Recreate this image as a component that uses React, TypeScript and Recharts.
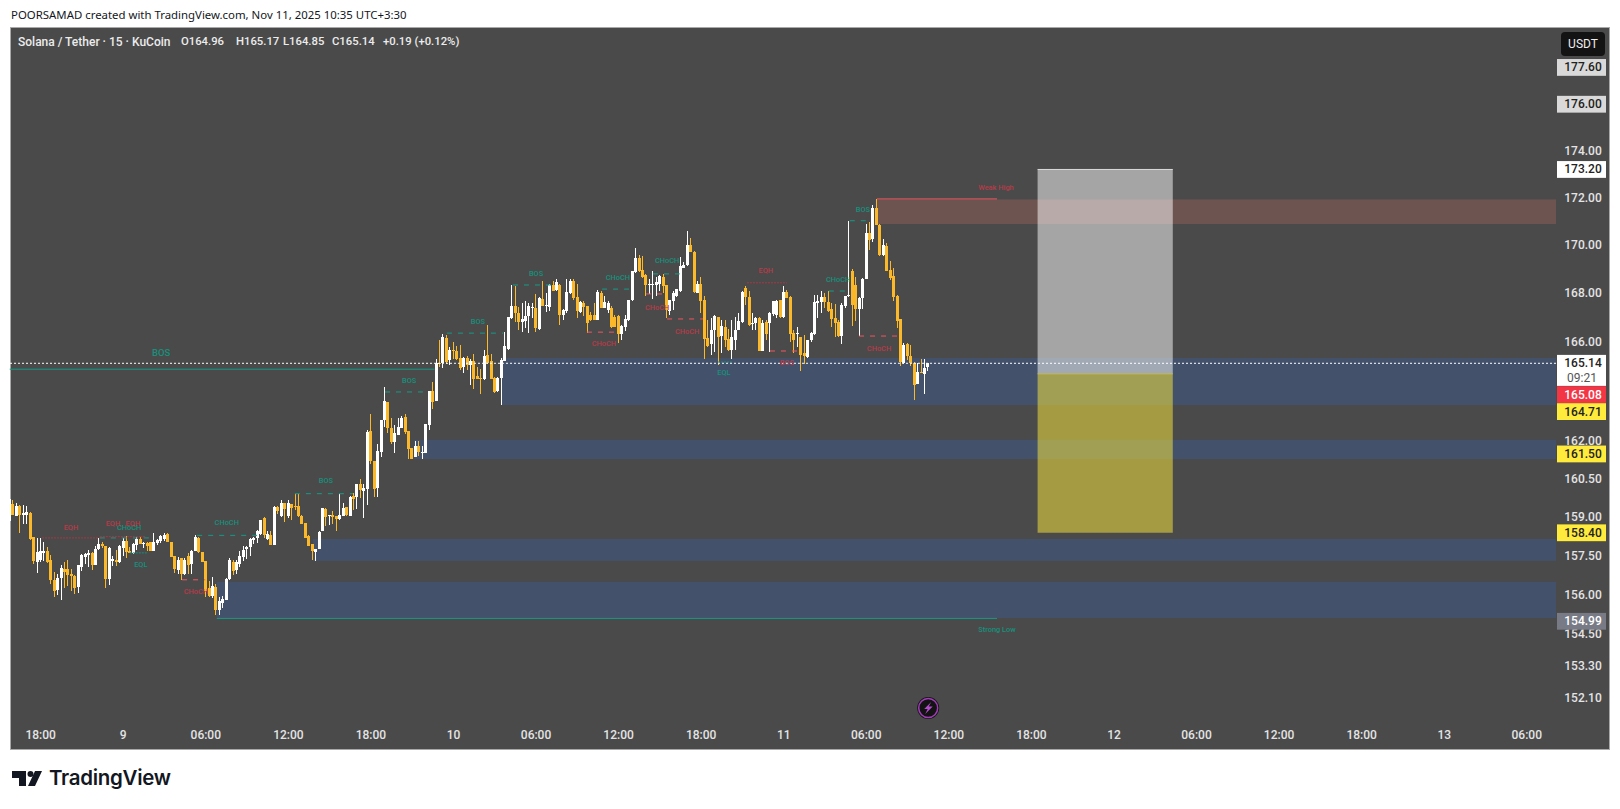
import React from "react";
import { Bar, ComposedChart, ReferenceArea, ReferenceDot, ReferenceLine, XAxis, YAxis } from "recharts";

const opens = [
  158.84, 159.52, 159.06, 159.46, 159.13, 159.13, 159.19, 158.22, 157.27, 157.33,
  157.62, 157.69, 157.33, 156.59, 156.19, 156.64, 157.0, 156.98, 156.81, 156.74,
  156.31, 157.07, 157.44, 157.56, 157.62, 157.14, 157.75, 157.96, 157.88, 156.6,
  157.33, 157.36, 157.25, 157.83, 158.09, 157.69, 157.62, 157.92, 158.16, 157.96,
  158.01, 158.03, 157.7, 158.01, 158.08, 158.18, 158.36, 158.03, 157.49, 156.97,
  157.44, 156.78, 157.49, 157.18, 157.7, 158.18, 157.66, 157.29, 156.26, 155.98,
  156.31, 155.43, 155.66, 155.8, 156.59, 157.27, 156.97, 157.2, 157.46, 157.75,
  157.86, 158.09, 158.18, 158.35, 158.97, 158.16, 158.32, 157.92, 159.39, 159.06,
  159.56, 159.06, 159.53, 159.46, 159.46, 159.07, 158.8, 158.29, 157.97, 157.65,
  157.76, 158.44, 159.33, 159.04, 159.09, 159.04, 158.93, 159.07, 159.4, 159.07,
  159.85, 159.78, 160.3, 160.03, 160.12, 162.4, 161.24, 160.15, 161.6, 162.83,
  163.58, 162.53, 161.96, 162.26, 162.53, 162.96, 162.42, 161.73, 161.4, 161.82,
  161.54, 161.55, 162.68, 164.03, 163.6, 165.14, 165.13, 166.16, 165.28, 165.68,
  165.64, 165.35, 164.97, 165.35, 165.07, 165.24, 164.63, 164.53, 164.5, 165.48,
  165.24, 164.53, 164.03, 164.53, 165.24, 165.75, 167.0, 167.49, 167.2, 166.85,
  166.86, 167.08, 167.44, 167.41, 166.57, 167.78, 167.49, 167.46, 168.35, 168.12,
  168.35, 167.1, 167.26, 168.04, 168.52, 167.85, 167.23, 167.6, 167.48, 167.11,
  167.11, 166.91, 168.03, 167.43, 167.32, 167.41, 167.05, 167.07, 166.34, 166.64,
  166.91, 167.7, 168.91, 169.49, 168.98, 168.77, 168.37, 168.35, 168.38, 168.38,
  168.7, 168.33, 167.29, 167.69, 167.89, 168.08, 169.08, 169.19, 170.02, 169.71,
  168.03, 168.39, 167.73, 166.18, 165.93, 166.5, 167.02, 166.25, 166.63, 166.13,
  165.65, 166.09, 166.5, 166.84, 168.22, 167.84, 166.73, 166.78, 167.0, 165.64,
  166.84, 166.81, 167.18, 167.12, 167.73, 167.07, 168.08, 167.87, 166.39, 166.33,
  166.2, 165.55, 165.41, 166.06, 166.33, 167.63, 167.66, 167.87, 167.66, 167.35,
  166.97, 166.84, 166.23, 167.48, 167.89, 168.92, 168.33, 167.35, 167.8, 168.6,
  170.51, 170.27, 171.56, 170.86, 169.6, 169.98, 168.98, 168.73, 167.9, 166.95,
  165.14, 165.93, 165.44, 165.14, 164.3, 164.79, 164.71, 164.96,
];

const closes = [
  159.72, 159.1, 159.46, 159.1, 159.19, 159.23, 158.18, 157.27, 157.66, 157.69,
  157.69, 157.27, 156.55, 156.15, 156.64, 157.03, 156.9, 156.73, 156.72, 156.29,
  157.14, 157.53, 157.57, 157.62, 157.14, 157.77, 157.96, 157.88, 156.6, 157.79,
  157.4, 157.27, 157.88, 158.09, 157.65, 157.62, 157.96, 158.16, 157.96, 158.01,
  157.88, 157.67, 158.05, 158.12, 158.29, 158.32, 158.03, 157.46, 156.97, 157.36,
  156.81, 157.33, 157.16, 157.7, 158.25, 157.62, 157.27, 156.15, 155.96, 156.35,
  155.43, 155.76, 155.83, 156.61, 157.33, 156.94, 157.27, 157.5, 157.75, 157.83,
  158.16, 158.18, 158.45, 158.88, 158.32, 158.36, 157.92, 159.4, 159.23, 159.56,
  159.32, 159.56, 159.39, 159.43, 159.07, 158.75, 158.23, 157.9, 157.71, 157.76,
  158.44, 159.35, 159.01, 159.08, 159.01, 158.91, 159.09, 159.38, 159.07, 159.8,
  159.75, 160.3, 160.05, 160.15, 162.38, 161.2, 160.15, 161.62, 162.86, 163.6,
  162.53, 161.97, 162.33, 162.58, 162.93, 162.37, 161.7, 161.3, 161.83, 161.6,
  161.57, 162.7, 164.03, 163.6, 165.14, 165.1, 166.2, 165.2, 165.68, 165.65,
  165.32, 164.95, 165.35, 165.07, 165.24, 164.53, 164.5, 164.5, 165.44, 165.14,
  164.5, 163.96, 164.56, 165.27, 165.85, 167.05, 167.49, 167.19, 166.85, 166.96,
  167.08, 167.49, 167.46, 166.57, 167.83, 167.49, 167.52, 168.35, 168.12, 168.46,
  167.1, 167.3, 168.05, 168.52, 167.83, 167.29, 167.63, 167.44, 166.8, 166.91,
  166.91, 168.06, 167.43, 167.66, 167.62, 166.64, 166.64, 166.34, 166.66, 166.95,
  167.73, 168.91, 169.49, 168.94, 168.7, 168.35, 168.39, 168.38, 168.49, 168.72,
  168.33, 167.29, 167.73, 168.03, 168.17, 169.12, 169.19, 170.02, 169.71, 168.03,
  168.39, 167.7, 166.12, 165.85, 166.5, 167.07, 166.2, 166.66, 166.09, 165.68,
  166.2, 166.5, 166.87, 168.08, 167.84, 166.68, 166.78, 167.0, 165.64, 166.8,
  166.36, 167.21, 167.7, 167.7, 167.02, 168.08, 167.82, 166.33, 166.09, 166.36,
  165.48, 165.41, 166.09, 166.36, 167.66, 167.7, 167.87, 167.66, 167.28, 166.94,
  166.78, 166.26, 167.52, 167.89, 167.93, 167.5, 167.32, 167.8, 168.6, 170.51,
  170.23, 171.56, 170.86, 169.6, 170.02, 168.95, 168.63, 167.87, 166.87, 165.18,
  165.87, 165.44, 165.14, 164.26, 164.78, 164.76, 164.95, 165.14,
];

const highs = [
  159.8, 159.69, 159.56, 159.5, 159.5, 159.46, 159.23, 158.25, 158.2, 158.2,
  158.05, 157.83, 157.53, 156.87, 156.81, 157.16, 157.27, 157.36, 157.0, 156.78,
  157.16, 157.57, 157.62, 157.73, 157.66, 157.88, 158.18, 158.05, 157.88, 157.83,
  157.49, 157.75, 157.92, 158.18, 158.28, 157.83, 158.01, 158.25, 158.25, 158.05,
  158.05, 158.03, 158.38, 158.15, 158.3, 158.4, 158.39, 158.03, 157.49, 157.46,
  157.44, 157.44, 157.6, 157.73, 158.3, 158.22, 157.66, 157.29, 156.55, 156.7,
  156.4, 155.9, 155.96, 156.64, 157.44, 157.33, 157.33, 157.7, 157.88, 157.9,
  158.2, 158.25, 158.5, 158.9, 159.0, 158.45, 158.45, 159.45, 159.45, 159.7,
  159.56, 159.7, 159.53, 159.93, 159.93, 159.1, 158.8, 158.3, 157.97, 157.77,
  158.45, 159.35, 159.35, 159.1, 159.25, 159.05, 159.9, 159.55, 159.4, 159.85,
  159.95, 160.3, 160.5, 160.3, 162.45, 163.1, 161.24, 161.9, 162.86, 164.2,
  163.58, 162.95, 162.65, 162.93, 163.0, 163.1, 162.42, 161.73, 162.0, 162.0,
  161.8, 162.7, 164.03, 164.4, 165.3, 166.1, 166.35, 166.3, 165.82, 166.0,
  165.85, 165.9, 165.4, 165.45, 165.3, 165.5, 165.0, 164.9, 165.7, 166.7,
  165.5, 164.6, 164.6, 165.35, 166.4, 167.05, 168.35, 168.3, 167.45, 167.6,
  167.7, 167.6, 167.6, 167.98, 167.85, 168.5, 168.0, 168.4, 168.5, 168.6,
  168.4, 167.35, 168.6, 168.6, 168.6, 168.4, 167.7, 167.7, 167.5, 167.25,
  167.6, 168.15, 168.1, 167.9, 167.7, 167.5, 167.1, 167.1, 166.7, 167.1,
  167.75, 168.95, 169.9, 169.6, 169.55, 168.8, 168.6, 168.95, 168.7, 168.75,
  168.8, 168.35, 167.75, 168.1, 168.2, 169.5, 169.3, 170.6, 170.3, 169.75,
  168.5, 168.7, 167.9, 166.9, 167.0, 167.1, 167.05, 166.9, 166.9, 166.55,
  166.9, 167.05, 167.2, 168.1, 168.3, 168.1, 167.2, 167.05, 167.05, 166.9,
  166.9, 167.25, 167.7, 167.75, 167.75, 168.3, 168.15, 167.9, 166.5, 166.6,
  166.2, 166.3, 166.1, 166.4, 167.95, 167.95, 168.1, 168.0, 168.1, 167.6,
  167.55, 166.9, 167.6, 167.9, 171.03, 169.0, 168.7, 167.85, 168.65, 170.9,
  170.97, 171.7, 171.93, 170.9, 170.25, 170.1, 169.35, 169.05, 167.95, 166.95,
  165.95, 165.95, 165.9, 165.2, 165.15, 165.32, 165.3, 165.17,
];

const lows = [
  158.84, 159.1, 159.04, 158.41, 158.75, 158.77, 158.12, 157.2, 156.84, 157.27,
  157.3, 157.2, 156.42, 155.89, 156.02, 155.83, 156.26, 156.35, 156.15, 156.06,
  156.1, 156.9, 157.2, 157.07, 156.98, 157.14, 157.73, 157.83, 156.26, 156.35,
  157.1, 157.14, 157.23, 157.5, 157.44, 157.6, 157.6, 157.73, 157.96, 157.8,
  157.69, 157.67, 157.67, 157.9, 158.0, 158.1, 158.03, 157.46, 156.85, 156.8,
  156.6, 156.78, 156.78, 156.8, 157.69, 157.6, 157.27, 155.9, 155.94, 155.9,
  155.2, 155.2, 155.5, 155.8, 156.59, 156.75, 156.78, 157.1, 157.3, 157.4,
  157.5, 157.98, 158.0, 158.3, 158.2, 158.1, 157.92, 157.92, 159.15, 159.05,
  158.8, 159.0, 158.9, 159.3, 159.04, 158.75, 158.2, 157.9, 157.35, 157.3,
  157.76, 158.44, 158.65, 158.7, 158.75, 158.45, 158.9, 159.05, 159.05, 159.05,
  159.3, 159.3, 159.75, 158.95, 159.5, 161.1, 159.8, 159.8, 161.4, 162.6,
  162.35, 161.9, 161.53, 162.26, 162.5, 162.3, 161.3, 161.28, 161.35, 161.4,
  161.3, 161.55, 162.45, 163.3, 163.6, 165.0, 164.95, 165.1, 165.1, 165.3,
  165.3, 164.9, 164.75, 164.9, 164.25, 164.1, 164.5, 163.9, 164.5, 165.1,
  164.5, 163.96, 164.0, 163.45, 165.24, 165.7, 166.95, 166.8, 166.5, 166.4,
  166.6, 166.35, 167.0, 166.4, 166.5, 167.45, 167.2, 167.3, 168.1, 168.1,
  166.7, 166.9, 167.2, 168.0, 167.75, 167.0, 167.2, 167.1, 166.4, 166.9,
  166.9, 166.9, 167.4, 167.43, 167.2, 166.6, 166.6, 165.95, 166.1, 166.45,
  166.9, 167.7, 168.85, 168.9, 168.65, 167.9, 168.0, 167.8, 167.9, 168.1,
  168.0, 167.0, 167.15, 167.3, 167.85, 168.05, 169.05, 169.15, 169.7, 168.0,
  168.0, 167.2, 165.3, 165.8, 165.5, 165.6, 165.1, 165.55, 165.8, 165.65,
  165.3, 165.7, 166.5, 166.8, 167.5, 166.68, 166.5, 166.5, 165.64, 165.64,
  166.1, 165.6, 167.1, 167.0, 167.0, 167.0, 167.8, 166.0, 165.55, 165.8,
  164.8, 165.1, 165.35, 166.0, 166.3, 167.0, 167.2, 167.4, 167.25, 166.6,
  166.2, 166.2, 165.9, 167.4, 167.87, 166.64, 166.9, 166.25, 167.35, 168.6,
  169.8, 170.15, 170.86, 169.55, 169.55, 168.95, 168.55, 167.7, 166.6, 165.02,
  165.1, 165.25, 165.05, 163.65, 164.3, 164.76, 163.9, 164.85,
];

// time axis, in 15 minute slots
const slotCount = 450;
const timeTicks = [9, 33, 57, 81, 105, 129, 153, 177, 201, 225, 249, 273, 297, 321, 345, 369, 393, 417, 441];
const timeLabels = ["18:00", "9", "06:00", "12:00", "18:00", "10", "06:00", "12:00", "18:00", "11", "06:00", "12:00", "18:00", "12", "06:00", "12:00", "18:00", "13", "06:00"];

const priceTicks = [174, 172, 170, 168, 166, 162, 160.5, 159, 157.5, 156, 154.5, 153.3, 152.1];
const priceTags = [177.6, 176, 173.2, 165.14, 165.08, 164.71, 161.5, 158.4, 154.99];

// [from slot, top price, bottom price]
const demandZones = [
  [143.5, 165.35, 163.46],
  [118, 162.06, 161.3],
  [88.7, 158.16, 157.31],
  [60.7, 156.5, 155.12],
];
const supplyZone = [252.5, 171.93, 170.89];
const tradeBox = { from: 299.3, to: 338.6, target: 173.2, entry: 164.71, stop: 158.4 };
const lastPrice = 165.14;

// [text, from, to, price, label slot, label price]
type Mark = [string, number, number, number, number, number];
const greenDashed: Mark[] = [
  ["CHoCH", 26.7, 41.3, 158.2, 35.2, 158.63],
  ["CHoCH", 55, 72.4, 158.3, 63.6, 158.8],
  ["BOS", 83.4, 100.3, 159.93, 92.4, 160.45],
  ["BOS", 109.6, 120.6, 163.98, 116.6, 164.43],
  ["BOS", 127.6, 143.9, 166.37, 136.6, 166.87],
  ["BOS", 146.8, 158.1, 168.35, 153.5, 168.85],
  ["CHoCH", 172.7, 180.8, 168.18, 177.3, 168.68],
  ["CHoCH", 187.5, 195.3, 168.81, 191.6, 169.36],
  ["CHoCH", 238.6, 244.7, 168.1, 241.3, 168.6],
  ["BOS", 244.7, 250.6, 171.03, 248.5, 171.53],
];
const redDashed: Mark[] = [
  ["CHoCH", 50.6, 57.3, 156.58, 54.6, 156.12],
  ["CHoCH", 168.3, 177.3, 166.41, 173.2, 165.96],
  ["CHoCH", 185.5, 190.1, 167.98, 188.7, 167.44],
  ["CHoCH", 191.6, 202, 166.95, 197.4, 166.46],
  ["BOS", 221.5, 230.2, 165.64, 226.4, 165.16],
  ["CHoCH", 247.4, 259.3, 166.25, 253.2, 165.76],
];
const greenDotted: Mark[] = [
  ["EQL", 35.4, 40.7, 157.62, 38.6, 157.16],
  ["EQL", 206.4, 210.4, 165.19, 208.1, 164.79],
];
const redDotted: Mark[] = [
  ["EQH", 9.9, 26.7, 158.2, 18.3, 158.63],
  ["EQH", 26.7, 38.4, 158.25, 30.5, 158.75],
  ["EQH", 38.4, 40, 158.25, 36.3, 158.75],
  ["EQH", 214.8, 226.4, 168.44, 220.3, 168.94],
];
const greenSolid: Mark[] = [
  ["BOS", 0.5, 124, 164.9, 44.5, 165.56],
  ["Strong Low", 60.7, 287.5, 155.1, 287.5, 154.7],
];
const redSolid: Mark[] = [["Weak High", 252.6, 287.5, 171.95, 287.2, 172.46]];

const boltSlot = 267.5;
const boltPrice = 151.72;

const rows = Array.from({ length: slotCount }, (_, slot) =>
  slot < opens.length
    ? {
        slot,
        wick: [lows[slot], highs[slot]],
        body: [Math.min(opens[slot], closes[slot]), Math.max(opens[slot], closes[slot])],
        up: closes[slot] >= opens[slot],
      }
    : { slot }
);

const GREEN_TEXT = "#17907c";
const RED_TEXT = "#b53c49";
const GREEN_LINE = "#149c86";
const RED_LINE = "#f25560";
const UI_FONT = "Roboto, sans-serif";

const CandlePart = ({ x, y, width, height, payload }: any) => {
  if (!Number.isFinite(y) || !Number.isFinite(height) || payload.up === undefined) return null;
  return (
    <rect
      x={Math.round(x)}
      y={Math.round(y)}
      width={width}
      height={Math.max(Math.round(height), 1)}
      fill={payload.up ? "#ffffff" : "#fbb829"}
      shapeRendering="crispEdges"
    />
  );
};

const tagStyle: Record<string, { bg: string; fg: string; dy: number }> = {
  "177.6": { bg: "#d9d9d9", fg: "#222", dy: 0 },
  "176": { bg: "#d9d9d9", fg: "#222", dy: 0 },
  "173.2": { bg: "#ffffff", fg: "#222", dy: 0 },
  "165.14": { bg: "#ffffff", fg: "#222", dy: 0 },
  "165.08": { bg: "#f23645", fg: "#fff", dy: 29.8 },
  "164.71": { bg: "#ffeb3b", fg: "#222", dy: 37.7 },
  "161.5": { bg: "#ffeb3b", fg: "#222", dy: 0 },
  "158.4": { bg: "#ffeb3b", fg: "#222", dy: 0 },
  "154.99": { bg: "#787b86", fg: "#fff", dy: 0 },
};

const PriceTick = ({ y, payload }: any) => {
  const label = payload.value.toFixed(2);
  const tag = tagStyle[String(payload.value)];
  if (!tag) {
    return (
      <text x={1583} y={y + 4} textAnchor="middle" fill="#e4e4e4" fontSize={12} fontFamily={UI_FONT} fontWeight={500}>
        {label}
      </text>
    );
  }
  const twoLines = payload.value === lastPrice;
  const cy = y + tag.dy;
  return (
    <g>
      <rect x={1557} y={cy - 8.4} width={49} height={twoLines ? 31 : 16.8} fill={tag.bg} />
      <text x={1583} y={cy + 4} textAnchor="middle" fill={tag.fg} fontSize={12} fontFamily={UI_FONT} fontWeight={500}>
        {label}
      </text>
      {twoLines && (
        <text x={1582} y={cy + 18.5} textAnchor="middle" fill="#555" fontSize={12} fontFamily={UI_FONT}>
          09:21
        </text>
      )}
    </g>
  );
};

const BoltBadge = ({ cx, cy }: any) => (
  <g>
    <circle cx={cx} cy={cy} r={11} fill="#131313" />
    <circle cx={cx} cy={cy} r={9.5} fill="#131313" stroke="#a23cb8" strokeWidth={1.5} />
    <path
      d={`M${cx + 3} ${cy - 6} L${cx - 4} ${cy + 1} H${cx - 0.5} L${cx - 3} ${cy + 6} L${cx + 4.5} ${cy - 1.5} H${cx + 0.5} Z`}
      fill="#b44dcc"
    />
  </g>
);

const drawMarks = (marks: Mark[], stroke: string, dash: string | undefined, fill: string, width: number) =>
  marks.flatMap(([text, from, to, price, labelSlot, labelPrice], i) => [
    <ReferenceLine
      key={`${text}-${from}-l-${i}`}
      xAxisId="pos"
      segment={[
        { x: from, y: price },
        { x: to, y: price },
      ]}
      stroke={stroke}
      strokeWidth={width}
      strokeDasharray={dash}
    />,
    <ReferenceDot
      key={`${text}-${from}-t-${i}`}
      xAxisId="pos"
      x={labelSlot}
      y={labelPrice}
      r={0}
      stroke="none"
      label={{ value: text, position: "center", fill, fontSize: text === "BOS" && from < 1 ? 9.5 : 7.4, fontWeight: 500, fontFamily: UI_FONT }}
    />,
  ]);

export default function App() {
  return (
    <div style={{ position: "absolute", left: 0, top: 0, width: 1620, height: 809, background: "#fff", overflow: "hidden", fontFamily: UI_FONT }}>
      <div style={{ position: "absolute", left: 11, top: 7, fontSize: 11.4, color: "#131722", whiteSpace: "nowrap", fontFamily: "'Noto Sans', sans-serif" }}>
        POORSAMAD created with TradingView.com, Nov 11, 2025 10:35 UTC+3:30
      </div>
      <div style={{ position: "absolute", left: 10, top: 27, width: 1598, height: 721, background: "#4a4a4a", border: "1px solid #a9a9a9" }} />
      <div style={{ position: "absolute", left: 0, top: 0 }}>
        <ComposedChart
          width={1620}
          height={809}
          data={rows}
          margin={{ top: 28, right: 11, bottom: 60, left: 8 }}
        >
          <XAxis
            xAxisId="body"
            dataKey="slot"
            height={27}
            ticks={timeTicks}
            interval={0}
            axisLine={false}
            tickLine={false}
            tickFormatter={(v) => timeLabels[timeTicks.indexOf(v)]}
            tick={{ fill: "#e4e4e4", fontSize: 12, fontWeight: 500, fontFamily: UI_FONT }}
          />
          <XAxis xAxisId="wick" dataKey="slot" hide />
          <XAxis xAxisId="pos" dataKey="slot" type="number" domain={[0, slotCount]} allowDataOverflow hide />
          <YAxis
            orientation="right"
            width={53}
            scale="log"
            domain={[151.2, 179.33]}
            allowDataOverflow
            ticks={[...priceTicks, ...priceTags]}
            interval={0}
            axisLine={false}
            tickLine={false}
            tick={<PriceTick />}
          />

          {demandZones.map(([from, top, bottom]) => (
            <ReferenceArea key={from} xAxisId="pos" x1={from} x2={slotCount} y1={top} y2={bottom} ifOverflow="visible" fill="#297cff" fillOpacity={0.18} stroke="none" />
          ))}
          <ReferenceArea xAxisId="pos" x1={supplyZone[0]} x2={slotCount} y1={supplyZone[1]} y2={supplyZone[2]} ifOverflow="visible" fill="#f2786a" fillOpacity={0.214} stroke="none" />
          <ReferenceArea xAxisId="pos" x1={tradeBox.from} x2={tradeBox.to} y1={tradeBox.target} y2={tradeBox.entry} fill="#ffffff" fillOpacity={0.5} stroke="none" />
          <ReferenceArea xAxisId="pos" x1={tradeBox.from} x2={tradeBox.to} y1={tradeBox.entry} y2={tradeBox.stop} fill="#ffeb3b" fillOpacity={0.5} stroke="none" />
          <ReferenceLine xAxisId="pos" segment={[{ x: tradeBox.from, y: tradeBox.target }, { x: tradeBox.to, y: tradeBox.target }]} stroke="#dcdcdc" />
          <ReferenceLine xAxisId="pos" segment={[{ x: tradeBox.from, y: tradeBox.entry }, { x: tradeBox.to, y: tradeBox.entry }]} stroke="#c4b84a" />

          {drawMarks(greenDashed, GREEN_LINE, "5 6", GREEN_TEXT, 1)}
          {drawMarks(redDashed, RED_LINE, "5 6", RED_TEXT, 1)}
          {drawMarks(greenDotted, GREEN_TEXT, "2 1", GREEN_TEXT, 1)}
          {drawMarks(redDotted, "#a33a46", "2 1", RED_TEXT, 1)}
          {drawMarks(greenSolid, GREEN_LINE, undefined, GREEN_TEXT, 1)}
          {drawMarks(redSolid, RED_LINE, undefined, RED_TEXT, 1)}

          <ReferenceLine xAxisId="pos" y={lastPrice} stroke="#ffffff" strokeDasharray="2 2" />

          <Bar xAxisId="wick" dataKey="wick" barSize={1} shape={<CandlePart />} isAnimationActive={false} />
          <Bar xAxisId="body" dataKey="body" barSize={3} shape={<CandlePart />} isAnimationActive={false} />

          <ReferenceDot xAxisId="pos" x={boltSlot} y={boltPrice} r={11} shape={<BoltBadge />} />
        </ComposedChart>
      </div>

      <div style={{ position: "absolute", left: 1561, top: 32, width: 44, height: 24, background: "#131313", borderRadius: 4, color: "#eee", fontSize: 12, lineHeight: "24px", textAlign: "center" }}>
        USDT
      </div>
      <div style={{ position: "absolute", top: 35, left: 0, fontSize: 11.3, fontWeight: 500, color: "#ececec", whiteSpace: "nowrap" }}>
        <span style={{ position: "absolute", left: 18, fontSize: 12 }}>Solana / Tether · 15 · KuCoin</span>
        <span style={{ position: "absolute", left: 181 }}>O164.96</span>
        <span style={{ position: "absolute", left: 236 }}>H165.17</span>
        <span style={{ position: "absolute", left: 283 }}>L164.85</span>
        <span style={{ position: "absolute", left: 332 }}>C165.14</span>
        <span style={{ position: "absolute", left: 383 }}>+0.19 (+0.12%)</span>
      </div>

      <svg width={34} height={18} style={{ position: "absolute", left: 11, top: 770 }}>
        <path d="M1 1 H15 V16 H8 V8 H1 Z" fill="#131722" />
        <circle cx={19.5} cy={4} r={3} fill="#131722" />
        <path d="M24 1 H31 L24 16 H17 Z" fill="#131722" />
      </svg>
      <div style={{ position: "absolute", left: 49, top: 765, fontSize: 20.5, fontWeight: 600, color: "#131722", fontFamily: "Inter, sans-serif", letterSpacing: -0.3 }}>
        TradingView
      </div>
    </div>
  );
}
